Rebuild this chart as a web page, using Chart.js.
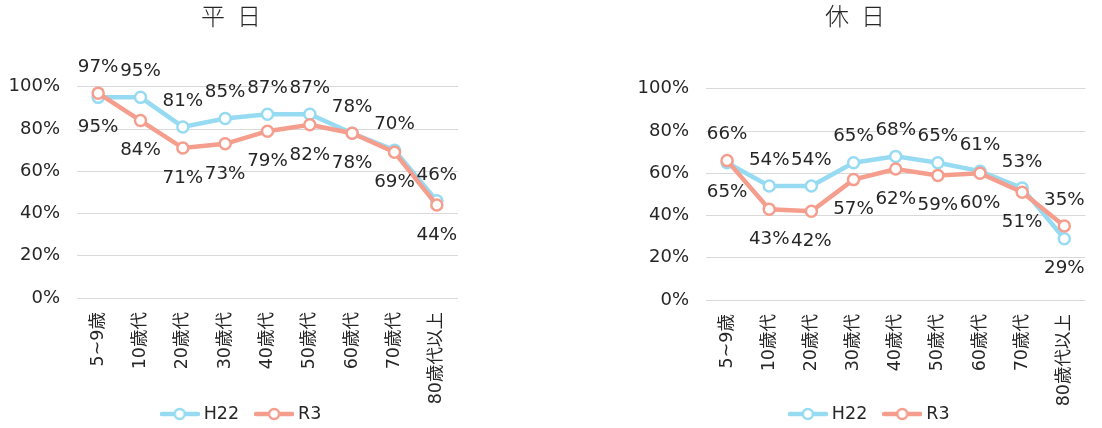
<!DOCTYPE html>
<html>
<head>
<meta charset="utf-8">
<script src="https://cdn.jsdelivr.net/npm/chart.js@4.4.1/dist/chart.umd.min.js"></script>
<style>
  html, body { margin: 0; padding: 0; background: #fff; }
  body { width: 1102px; height: 428px; position: relative; overflow: hidden; }
  canvas { position: absolute; top: 0; }
  #weekdayChart { left: 0; }
  #holidayChart { left: 600px; }
</style>
</head>
<body>
<canvas id="weekdayChart" width="474" height="428"></canvas>
<canvas id="holidayChart" width="500" height="428"></canvas>
<script>
// age groups along the x axis
const ageGroups = ['5~9歳', '10歳代', '20歳代', '30歳代', '40歳代', '50歳代', '60歳代', '70歳代', '80歳代以上'];
const seriesNames = ['H22', 'R3'];

// 平日 (%)
const weekdayH22 = [95, 95, 81, 85, 87, 87, 78, 70, 46];
const weekdayR3 = [97, 84, 71, 73, 79, 82, 78, 69, 44];

// 休日 (%)
const holidayH22 = [65, 54, 54, 65, 68, 65, 61, 53, 29];
const holidayR3 = [66, 43, 42, 57, 62, 59, 60, 51, 35];

const yTicks = [0, 20, 40, 60, 80, 100];

const FONT = '"DejaVu Sans", "Noto Sans CJK JP", sans-serif';
const TEXT = '#262626';
const BLUE = 'rgb(151, 219, 243)';
const SALMON = 'rgb(245, 158, 141)';

function legendIcon(color) {
    const c = document.createElement('canvas');
    c.width = 40;
    c.height = 14;
    const g = c.getContext('2d');
    g.strokeStyle = color;
    g.lineWidth = 4.5;
    g.lineCap = 'round';
    g.beginPath();
    g.moveTo(2, 7);
    g.lineTo(38, 7);
    g.stroke();
    g.fillStyle = '#fff';
    g.lineWidth = 2.5;
    g.beginPath();
    g.arc(20, 7, 5, 0, Math.PI * 2);
    g.fill();
    g.stroke();
    return c;
}

const icons = [legendIcon(BLUE), legendIcon(SALMON)];

// value labels: the higher series above its point, the lower one below
const pointLabels = {
    id: 'pointLabels',
    afterDatasetsDraw(chart) {
        const ctx = chart.ctx;
        const sets = chart.data.datasets;
        ctx.save();
        ctx.font = '18.3px ' + FONT;
        ctx.fillStyle = TEXT;
        ctx.textAlign = 'center';
        ctx.textBaseline = 'middle';
        sets.forEach((ds, i) => {
            const meta = chart.getDatasetMeta(i);
            const other = sets[1 - i].data;
            meta.data.forEach((pt, j) => {
                const v = ds.data[j];
                const above = v > other[j] || (v === other[j] && i === 0);
                ctx.fillText(v + '%', pt.x, pt.y + (above ? -26 : 30));
            });
        });
        ctx.restore();
    }
};

// legend under the axis labels, line + marker icon and name
const bottomLegend = {
    id: 'bottomLegend',
    afterDraw(chart) {
        const ctx = chart.ctx;
        const sets = chart.data.datasets;
        ctx.save();
        ctx.font = '17.5px ' + FONT;
        ctx.fillStyle = TEXT;
        ctx.textAlign = 'left';
        ctx.textBaseline = 'middle';
        const widths = sets.map(ds => 44 + ctx.measureText(ds.label).width);
        const total = widths.reduce((a, b) => a + b, 0) + 15 * (sets.length - 1);
        let x = (chart.chartArea.left + chart.chartArea.right) / 2 - 27 - total / 2;
        const y = 414;
        sets.forEach((ds, i) => {
            ctx.drawImage(icons[i], x, y - 7);
            ctx.fillText(ds.label, x + 44, y);
            x += widths[i] + 15;
        });
        ctx.restore();
    }
};

function makeDataset(label, data, color, order) {
    return {
        label: label,
        data: data,
        borderColor: color,
        backgroundColor: color,
        borderWidth: 4.5,
        tension: 0,
        pointRadius: 5.5,
        pointBorderWidth: 2.5,
        pointBackgroundColor: '#fff',
        pointBorderColor: color,
        order: order,
        clip: false
    };
}

function createChart(id, title, h22, r3, pad, yWidth, xHeight, titleBottom) {
    const ctx = document.getElementById(id).getContext('2d');
    return new Chart(ctx, {
        type: 'line',
        data: {
            labels: ageGroups,
            datasets: [
                makeDataset(seriesNames[0], h22, BLUE, 1),
                makeDataset(seriesNames[1], r3, SALMON, 0)
            ]
        },
        options: {
            responsive: false,
            animation: false,
            layout: { padding: { left: pad[0], right: pad[1], top: 0, bottom: 0 } },
            scales: {
                x: {
                    offset: true,
                    grid: { display: false, drawTicks: false },
                    border: { display: false },
                    ticks: {
                        autoSkip: false,
                        minRotation: 90,
                        maxRotation: 90,
                        padding: 14,
                        color: TEXT,
                        font: { family: FONT, size: 17.5 }
                    },
                    afterFit: s => { s.height = xHeight; }
                },
                y: {
                    min: yTicks[0],
                    max: yTicks[yTicks.length - 1],
                    afterBuildTicks: s => { s.ticks = yTicks.map(v => ({ value: v })); },
                    grid: { color: '#d9d9d9', lineWidth: 1, drawTicks: false },
                    border: { display: false },
                    ticks: {
                        padding: 17,
                        color: TEXT,
                        font: { family: FONT, size: 18 },
                        callback: v => v + '%'
                    },
                    afterFit: s => { s.width = yWidth; }
                }
            },
            plugins: {
                title: {
                    display: true,
                    text: title,
                    color: TEXT,
                    font: { family: FONT, size: 24, weight: 300 },
                    padding: { top: 4, bottom: titleBottom }
                },
                legend: { display: false },
                tooltip: { enabled: false }
            }
        },
        plugins: [pointLabels, bottomLegend]
    });
}

createChart('weekdayChart', '平\u2002日', weekdayH22, weekdayR3, [4, 16], 73, 130, 54);
createChart('holidayChart', '休\u2002日', holidayH22, holidayR3, [22, 12], 84, 128, 56);
</script>
</body>
</html>
